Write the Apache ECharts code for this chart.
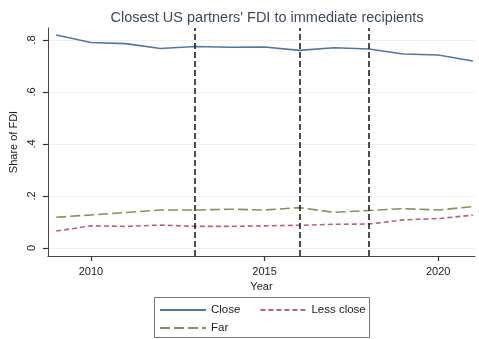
<!DOCTYPE html>
<html>
<head>
<meta charset="utf-8">
<script src="https://cdn.jsdelivr.net/npm/echarts@6/dist/echarts.min.js"></script>
<style>
html,body{margin:0;padding:0;background:#fff;}
#chart{width:479px;height:339px;}
</style>
</head>
<body>
<div id="chart"></div>
<script>
// Shares of FDI by partner closeness, 2009-2021
const years = [2009, 2010, 2011, 2012, 2013, 2014, 2015, 2016, 2017, 2018, 2019, 2020, 2021];
const closeShare = [0.819, 0.790, 0.786, 0.767, 0.775, 0.772, 0.773, 0.760, 0.770, 0.765, 0.746, 0.742, 0.719];
const lessCloseShare = [0.065, 0.085, 0.083, 0.088, 0.083, 0.083, 0.085, 0.087, 0.091, 0.092, 0.108, 0.113, 0.126];
const farShare = [0.118, 0.127, 0.136, 0.146, 0.146, 0.149, 0.146, 0.155, 0.137, 0.144, 0.151, 0.146, 0.159];
const yTicks = [0, 0.2, 0.4, 0.6, 0.8];
const xTicks = [2010, 2015, 2020];
const eventYears = [2013, 2016, 2018];

const font = 'Liberation Sans, Arial, sans-serif';
const pairs = arr => years.map((y, i) => [y, arr[i]]);

const chart = echarts.init(document.getElementById('chart'), null, {renderer: 'canvas'});
chart.setOption({
  animation: false,
  backgroundColor: '#ffffff',
  title: {
    text: "Closest US partners' FDI to immediate recipients",
    left: 262, top: 5, textAlign: 'center',
    textStyle: {fontFamily: font, fontSize: 14.5, fontWeight: 'normal', color: '#3d4a5a'}
  },
  grid: {left: 43, right: 4, top: 28, bottom: 83},
  xAxis: {
    type: 'value', min: 2008.76, max: 2021.06,
    name: 'Year', nameLocation: 'middle', nameGap: 24,
    nameTextStyle: {fontFamily: font, fontSize: 11, color: '#222'},
    axisLine: {show: true, onZero: false, lineStyle: {color: '#444', width: 1}},
    axisTick: {show: true, inside: false, customValues: xTicks, length: 5, lineStyle: {color: '#333', width: 1.2}},
    axisLabel: {customValues: xTicks, fontFamily: font, fontSize: 11, color: '#222', margin: 10,
      formatter: v => String(v)},
    splitLine: {show: false}
  },
  yAxis: {
    type: 'value', min: -0.031, max: 0.846,
    name: 'Share of FDI', nameLocation: 'middle', nameGap: 27,
    nameTextStyle: {fontFamily: font, fontSize: 11, color: '#222'},
    axisLine: {show: true, onZero: false, lineStyle: {color: '#444', width: 1}},
    axisTick: {show: true, inside: false, customValues: yTicks, length: 5, lineStyle: {color: '#333', width: 1.2}},
    axisLabel: {customValues: yTicks, rotate: 90, fontFamily: font, fontSize: 11, color: '#222', margin: 10,
      formatter: v => (v === 0 ? '0' : String(Math.round(v * 10) / 10).replace(/^0/, ''))},
    splitLine: {show: true, lineStyle: {color: '#edf1f4', width: 1}}
  },
  legend: [{
    data: ['Close', 'Less close'], left: 159, top: 304, itemWidth: 46, itemHeight: 10, itemGap: 19,
    itemStyle: {opacity: 0},
    textStyle: {fontFamily: font, fontSize: 11.5, color: '#222'}, padding: 0, selectedMode: false
  }, {
    data: ['Far'], left: 159, top: 322, itemWidth: 46, itemHeight: 10,
    itemStyle: {opacity: 0},
    textStyle: {fontFamily: font, fontSize: 11.5, color: '#222'}, padding: 0, selectedMode: false
  }],
  graphic: [{
    type: 'rect', shape: {x: 154.5, y: 297.5, width: 215, height: 40},
    style: {fill: 'none', stroke: '#777', lineWidth: 1}, silent: true
  }],
  series: [{
    name: 'Close', type: 'line', data: pairs(closeShare), showSymbol: false, symbol: 'none',
    lineStyle: {color: '#4f78a0', width: 1.6}, itemStyle: {color: '#4f78a0'},
    markLine: {
      silent: true, symbol: 'none', label: {show: false},
      lineStyle: {color: '#222', type: [6, 3], width: 1.6},
      data: eventYears.map(y => ({xAxis: y}))
    }
  }, {
    name: 'Less close', type: 'line', data: pairs(lessCloseShare), showSymbol: false, symbol: 'none',
    lineStyle: {color: '#b8637a', width: 1.6, type: [5, 3]}, itemStyle: {color: '#b8637a'}
  }, {
    name: 'Far', type: 'line', data: pairs(farShare), showSymbol: false, symbol: 'none',
    lineStyle: {color: '#849358', width: 1.6, type: [10, 4]}, itemStyle: {color: '#849358'}
  }]
});
</script>
</body>
</html>
